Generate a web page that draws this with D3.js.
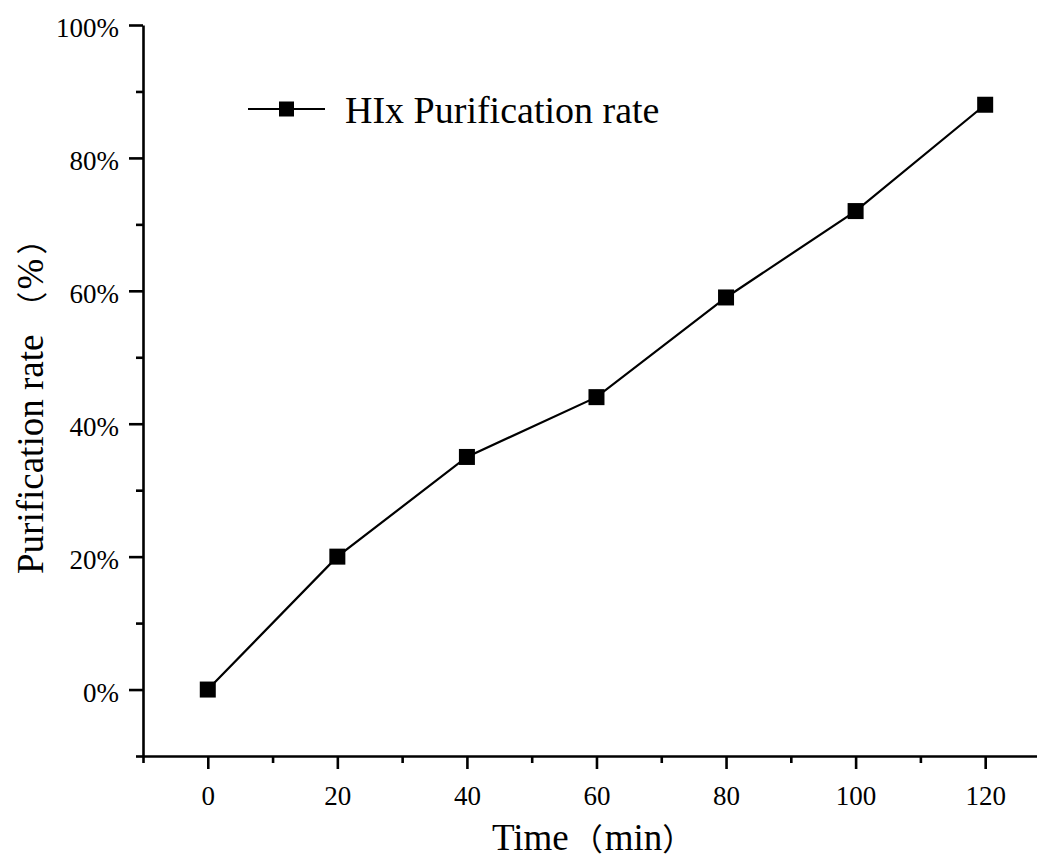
<!DOCTYPE html>
<html>
<head>
<meta charset="utf-8">
<script src="https://cdn.jsdelivr.net/npm/d3@7"></script>
<style>
  html, body { margin: 0; padding: 0; background: #fff; }
  svg { display: block; }
  text { font-family: "Liberation Serif", "Noto Sans CJK SC", serif; fill: #000; }
</style>
</head>
<body>
<svg id="chart" width="1037" height="861"></svg>
<script>
// Purification rate measured over time
const times = [0, 20, 40, 60, 80, 100, 120];
const rates = [0, 20, 35, 44, 59, 72, 88];

const xMajorTicks = [0, 20, 40, 60, 80, 100, 120];
const xMinorTicks = [-10, 10, 30, 50, 70, 90, 110];
const yMajorTicks = [0, 20, 40, 60, 80, 100];
const yMinorTicks = [-10, 10, 30, 50, 70, 90];

const seriesName = "HIx Purification rate";
const xTitleParts = ["Time", "（", "min", "）"];
const yTitleParts = ["Purification rate", "（", "%", "）"];

const svg = d3.select("#chart");

const x = d3.scaleLinear().domain([-10, 128]).range([143, 1037]);
const y = d3.scaleLinear().domain([-10, 100]).range([756, 25]);

const axisWidth = 2.6;

// Left axis: major ticks with labels, then unlabeled minor ticks
const yAxisG = svg.append("g").attr("transform", `translate(${x(-10)},0)`);
yAxisG.call(d3.axisLeft(y).tickValues(yMajorTicks).tickSize(14).tickSizeOuter(0)
  .tickPadding(10).tickFormat(d => d + "%"));
yAxisG.append("g").call(d3.axisLeft(y).tickValues(yMinorTicks).tickSize(7).tickSizeOuter(0).tickFormat(""))
  .select(".domain").remove();

// Bottom axis
const xAxisG = svg.append("g").attr("transform", `translate(0,${y(-10)})`);
xAxisG.call(d3.axisBottom(x).tickValues(xMajorTicks).tickSize(13).tickSizeOuter(0)
  .tickPadding(17).tickFormat(d3.format("d")));
xAxisG.append("g").call(d3.axisBottom(x).tickValues(xMinorTicks).tickSize(7).tickSizeOuter(0).tickFormat(""))
  .select(".domain").remove();

svg.selectAll(".domain, .tick line")
  .attr("stroke", "#000")
  .attr("stroke-width", axisWidth);
svg.selectAll(".tick text")
  .attr("font-size", 27)
  .attr("font-family", "'Liberation Serif', serif")
  .attr("fill", "#000");
yAxisG.selectAll(".tick text").attr("dy", "0.44em");

// Series line and square markers
const points = times.map((t, i) => ({ t, v: rates[i] }));
const line = d3.line().x(d => x(d.t)).y(d => y(d.v));

svg.append("path")
  .datum(points)
  .attr("d", line)
  .attr("fill", "none")
  .attr("stroke", "#000")
  .attr("stroke-width", 2.2);

const markerSize = 16;
svg.selectAll("rect.marker")
  .data(points)
  .join("rect")
  .attr("class", "marker")
  .attr("x", d => x(d.t) - markerSize / 2)
  .attr("y", d => y(d.v) - markerSize / 2)
  .attr("width", markerSize)
  .attr("height", markerSize)
  .attr("fill", "#000");

// Legend
const legend = svg.append("g").attr("transform", "translate(248,109)");
legend.append("line")
  .attr("x1", 0).attr("x2", 77).attr("y1", 0).attr("y2", 0)
  .attr("stroke", "#000").attr("stroke-width", 2.2);
legend.append("rect")
  .attr("x", 38.5 - 7.5).attr("y", -7.5).attr("width", 15).attr("height", 15)
  .attr("fill", "#000");
legend.append("text")
  .attr("x", 97).attr("y", 14)
  .attr("font-size", 38)
  .text(seriesName);

// Axis titles; full-width brackets come from the CJK font
function titleText(sel, parts, gaps) {
  parts.forEach((p, i) => {
    const isBracket = /[（）]/.test(p);
    sel.append("tspan")
      .attr("dx", gaps[i])
      .attr("font-size", isBracket ? 31 : 37)
      .attr("font-family", isBracket ? "'Noto Sans CJK SC', sans-serif" : "'Liberation Serif', serif")
      .text(p);
  });
}

const xTitle = svg.append("text")
  .attr("x", 492).attr("y", 850)
  .attr("text-anchor", "start");
titleText(xTitle, xTitleParts, [0, 3, 2, 0]);

const yTitle = svg.append("text")
  .attr("transform", "translate(43,574) rotate(-90)")
  .attr("text-anchor", "start");
titleText(yTitle, yTitleParts, [0, 12, 2, 4]);
</script>
</body>
</html>
